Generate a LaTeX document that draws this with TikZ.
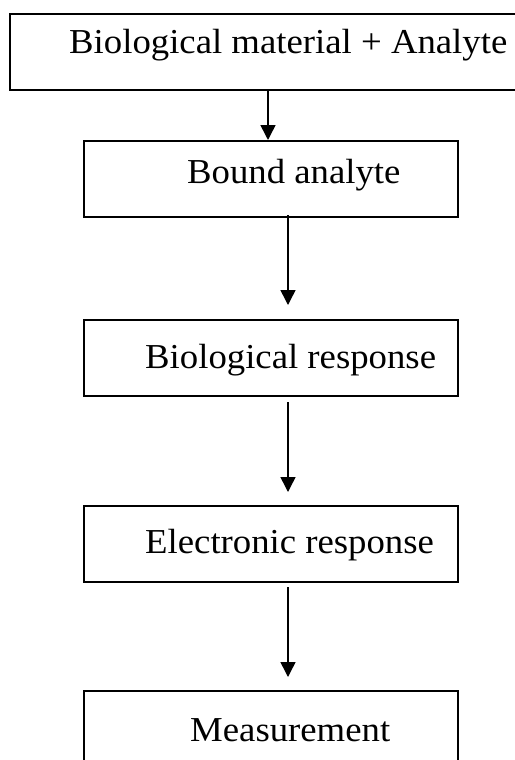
\documentclass[tikz,border=0pt]{standalone}
\usepackage{fontspec}
\setmainfont[FakeStretch=1.05]{Liberation Serif}
\usetikzlibrary{arrows.meta}
\begin{document}
\begin{tikzpicture}[x=1pt,y=-1pt,
  boxnode/.style={draw,line width=1.8pt,minimum width=#1,minimum height=76pt,inner sep=0pt,anchor=north west},
  boxnode/.default=374pt,
  lbl/.style={anchor=base west,inner sep=0pt,font=\fontsize{35}{42}\selectfont},
  conn/.style={line width=1.5pt,-{Triangle[length=15pt,width=15pt]}}]
\useasboundingbox (0,0) rectangle (514,760);
\node[boxnode=530pt] (b1) at (9,13) {};
\node[boxnode] (b2) at (83,140) {};
\node[boxnode] (b3) at (83,319) {};
\node[boxnode] (b4) at (83,505) {};
\node[boxnode, minimum height=100pt] (b5) at (83,690) {};
\node[lbl] (t1) at (69,53) {Biological material + Analyte};
\node[lbl] (t2) at (187,183) {Bound analyte};
\node[lbl] (t3) at (145,368) {Biological response};
\node[lbl] (t4) at (145,553) {Electronic response};
\node[lbl] (t5) at (190,741) {Measurement};
\coordinate (a2s) at (288,215);
\coordinate (a2e) at (288,305);
\coordinate (a3s) at (288,402);
\coordinate (a3e) at (288,492);
\coordinate (a4s) at (288,587);
\coordinate (a4e) at (288,677);
\draw[conn] (b1.south -| 268,0) -- (b2.north -| 268,0);
\draw[conn] (a2s) -- (a2e);
\draw[conn] (a3s) -- (a3e);
\draw[conn] (a4s) -- (a4e);
\end{tikzpicture}
\end{document}
